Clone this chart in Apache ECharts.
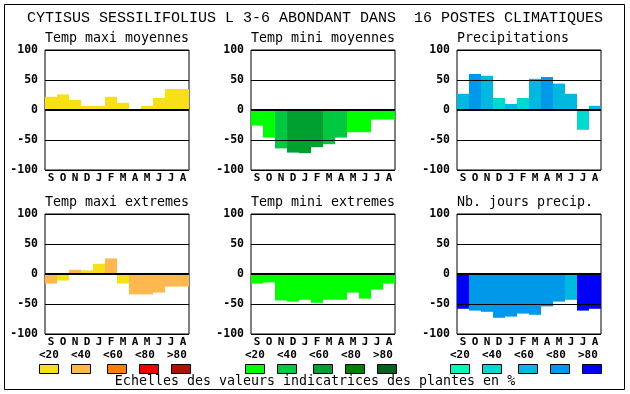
<!DOCTYPE html>
<html><head><meta charset="utf-8">
<script src="https://cdn.jsdelivr.net/npm/echarts@6/dist/echarts.min.js"></script>
<style>html,body{margin:0;padding:0;background:#fff}#c{width:630px;height:394px}</style>
</head><body><div id="c"></div>
<script>
const months = ['S','O','N','D','J','F','M','A','M','J','J','A'];
const yTicks = [-100, -50, 0, 50, 100];
const mainTitle = 'CYTISUS SESSILIFOLIUS L 3-6 ABONDANT DANS  16 POSTES CLIMATIQUES';
const panelTitles = ['Temp maxi moyennes','Temp mini moyennes','Precipitations','Temp maxi extremes','Temp mini extremes','Nb. jours precip.'];
const legendLabels = ['<20','<40','<60','<80','>80'];
const footer = 'Echelles des valeurs indicatrices des plantes en %';

const warmColors  = ['#f8e018','#ffb850','#ff8000','#f00000','#b01000'];
const greenColors = ['#00ff00','#00c840','#00a030','#008000','#006020'];
const blueColors  = ['#00f8b8','#00d8d0','#00b8e0','#0098e8','#0000f8'];

// values
const tmaxMoy  = [22, 26, 17, 7, 7, 22, 12, -2, 7, 20, 35, 35];
const tminMoy  = [-26, -46, -64, -71, -72, -62, -57, -46, -37, -37, -16, -16];
const precip   = [27, 60, 57, 20, 10, 20, 52, 55, 44, 27, -33, 7];
const tmaxExt  = [-16, -11, 7, 6, 17, 26, -16, -34, -34, -31, -21, -21];
const tminExt  = [-16, -14, -44, -46, -43, -48, -43, -43, -31, -41, -26, -16];
const nbJours  = [-58, -61, -63, -73, -71, -66, -68, -54, -46, -43, -61, -58];
// class index (0:<20 ... 4:>80)
const tmaxMoyCls = [0,0,0,0,0,0,0,0,0,0,0,0];
const tminMoyCls = [0,0,1,2,2,2,1,1,0,0,0,0];
const precipCls  = [2,3,2,1,2,1,2,3,2,2,1,2];
const tmaxExtCls = [1,0,1,0,0,1,0,1,1,1,1,1];
const tminExtCls = [0,0,0,0,0,0,0,0,0,0,0,0];
const nbJoursCls = [4,3,3,3,3,3,3,3,3,2,4,4];

const panels = [
  {vals: tmaxMoy, cls: tmaxMoyCls, pal: warmColors},
  {vals: tminMoy, cls: tminMoyCls, pal: greenColors},
  {vals: precip,  cls: precipCls,  pal: blueColors},
  {vals: tmaxExt, cls: tmaxExtCls, pal: warmColors},
  {vals: tminExt, cls: tminExtCls, pal: greenColors},
  {vals: nbJours, cls: nbJoursCls, pal: blueColors}
];

const colX = [45, 251, 457];
const rowY = [50, 214];
const mono = '"DejaVu Sans Mono", "Liberation Mono", monospace';

const grids = [], xAxes = [], yAxes = [], series = [], graphics = [];
panels.forEach((p, i) => {
  const c = i % 3, r = Math.floor(i / 3);
  grids.push({left: colX[c], top: rowY[r], width: 144, height: 120, show: true, borderColor: '#000', borderWidth: 1, backgroundColor: 'transparent'});
  xAxes.push({type: 'category', gridIndex: i, data: months, position: 'bottom',
    axisLine: {show: false, onZero: false}, axisTick: {show: false}, splitLine: {show: false},
    axisLabel: {margin: 3, fontFamily: mono, fontWeight: 'bold', fontSize: 11, color: '#000', interval: 0}});
  yAxes.push({type: 'value', gridIndex: i, min: yTicks[0], max: yTicks[yTicks.length-1], interval: 50, z: 5,
    axisLine: {show: false}, axisTick: {show: false},
    splitLine: {show: true, lineStyle: {color: '#000', width: 1}},
    axisLabel: {margin: 7, fontFamily: mono, fontWeight: 'bold', fontSize: 11.5, color: '#000'}});
  series.push({type: 'bar', xAxisIndex: i, yAxisIndex: i, barCategoryGap: '0%', barGap: '0%', z: 2,
    animation: false,
    markLine: {silent: true, symbol: 'none', label: {show: false}, z: 6,
      lineStyle: {color: '#000', width: 2, type: 'solid'}, data: [{yAxis: 0}]},
    data: p.vals.map((v, k) => ({value: v, itemStyle: {color: p.pal[p.cls[k]]}}))});
  graphics.push({type: 'text', left: colX[c], top: rowY[r] - 18,
    style: {text: panelTitles[i], font: '13.3px ' + mono, fill: '#000'}});
});

// frame
graphics.push({type: 'rect', shape: {x: 4.5, y: 4.5, width: 620, height: 385}, style: {fill: 'none', stroke: '#000', lineWidth: 1}});
// main title
graphics.push({type: 'text', x: 315, y: 18, style: {text: mainTitle, font: '15px "Liberation Mono", monospace', fill: '#000', textAlign: 'center', textVerticalAlign: 'middle'}});
// legends
const groupOff = [0, 206, 411];
const boxOff = [0, 32, 68, 100, 132];
[warmColors, greenColors, blueColors].forEach((pal, g) => {
  legendLabels.forEach((lab, k) => {
    graphics.push({type: 'text', x: 39 + groupOff[g] + 32 * k, y: 355,
      style: {text: lab, font: 'bold 11px ' + mono, fill: '#000', textVerticalAlign: 'middle'}});
    graphics.push({type: 'rect', shape: {x: 39.5 + groupOff[g] + boxOff[k], y: 364.5, width: 19, height: 9},
      style: {fill: pal[k], stroke: '#000', lineWidth: 1}});
  });
});
graphics.push({type: 'text', x: 315, y: 382, style: {text: footer, font: '13.3px ' + mono, fill: '#000', textAlign: 'center', textVerticalAlign: 'middle'}});

const chart = echarts.init(document.getElementById('c'), null, {renderer: 'canvas'});
chart.setOption({animation: false, grid: grids, xAxis: xAxes, yAxis: yAxes, series: series, graphic: graphics});
</script></body></html>
